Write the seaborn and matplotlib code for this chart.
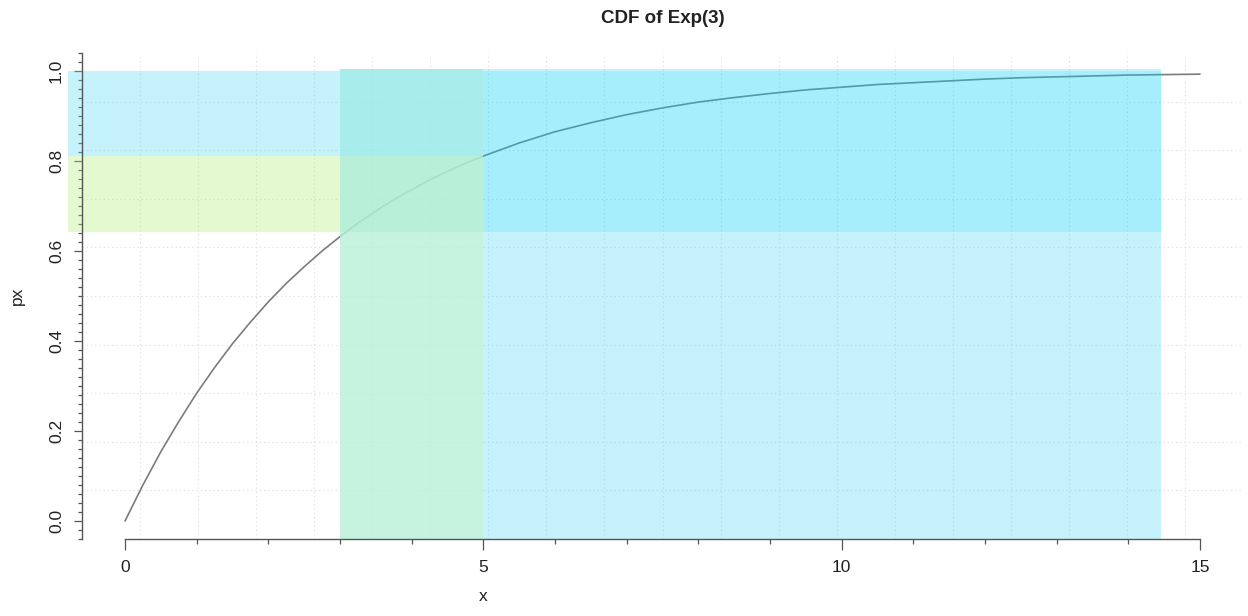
import numpy as np
import pandas as pd
import matplotlib
matplotlib.use("Agg")
import matplotlib.pyplot as plt
import matplotlib.colors as mcolors
from matplotlib.patches import Rectangle
from matplotlib.ticker import FixedLocator
import seaborn as sns

# ---------------- data ----------------
x_vals = [0.0, 0.25, 0.5, 0.75, 1.0, 1.25, 1.5, 1.75, 2.0, 2.25, 2.5, 2.75,
          3.0, 3.25, 3.5, 3.75, 4.0, 4.25, 4.5, 4.75, 5.0, 5.5, 6.0, 6.5,
          7.0, 7.5, 8.0, 8.5, 9.0, 9.5, 10.0, 10.5, 11.0, 11.5, 12.0, 12.5,
          13.0, 13.5, 14.0, 14.5, 15.0]
px_vals = [0.000, 0.080, 0.154, 0.221, 0.284, 0.341, 0.394, 0.442, 0.487, 0.528,
           0.565, 0.600, 0.632, 0.662, 0.689, 0.714, 0.736, 0.758, 0.777, 0.795,
           0.811, 0.840, 0.865, 0.885, 0.903, 0.918, 0.931, 0.941, 0.950, 0.958,
           0.964, 0.970, 0.974, 0.978, 0.982, 0.985, 0.987, 0.989, 0.991, 0.992,
           0.993]

x_lower = 3.0          # left edge of the vertical band
x_upper = 5.0          # right edge of the vertical band
p_lower = 0.643        # lower edge of the horizontal band
p_upper = 0.811        # upper edge of the horizontal band
band_left = -0.8       # shaded areas start left of the y axis
band_right = 14.45     # shaded areas end here
band_top = 1.0
band_top_v = 1.005

x_ticks = [0, 5, 10, 15]
x_tick_labels = ["0", "5", "10", "15"]
y_ticks = [0.0, 0.2, 0.4, 0.6, 0.8, 1.0]
y_tick_labels = ["0.0", "0.2", "0.4", "0.6", "0.8", "1.0"]
title_text = "CDF of Exp(3)"
x_label = "x"
y_label = "px"

# ---------------- style ----------------
sns.set_theme(style="white")
plt.rcParams["font.family"] = ["Liberation Sans", "DejaVu Sans"]

W, H = 1248, 616
fig = plt.figure(figsize=(W / 100, H / 100), dpi=100)
ax = fig.add_axes([82 / W, 1 - 539 / H, (1243 - 82) / W, (539 - 53) / H])
xlim = (-0.6, 15.6)
ylim = (-0.04, 1.04)
ax.set_xlim(*xlim)
ax.set_ylim(*ylim)

# dotted R-style grid (nx=20, ny=10)
grid_kw = dict(color="#e0e0e0", lw=0.8, ls=(0, (1.2, 2.6)), zorder=1)
for gx in np.linspace(xlim[0], xlim[1], 21)[1:-1]:
    ax.axvline(gx, **grid_kw)
for gy in np.linspace(ylim[0], ylim[1], 11)[1:-1]:
    ax.axhline(gy, **grid_kw)

# CDF curve
df = pd.DataFrame({x_label: x_vals, y_label: px_vals})
sns.lineplot(data=df, x=x_label, y=y_label, ax=ax, color="#7c7c7c", lw=1.2,
             zorder=2)


def over_white(target_hex, a):
    t = np.array(mcolors.to_rgb(target_hex))
    base = np.clip(1 - (1 - t) / a, 0, 1)
    return (base[0], base[1], base[2], a)


regions = [
    (band_left, x_lower, p_upper, band_top, "#C6F3FB", 0.35),
    (band_left, x_lower, p_lower, p_upper, "#E5F9D1", 0.35),
    (x_lower, x_upper, p_upper, band_top_v, "#A8EDEB", 0.80),
    (x_lower, x_upper, p_lower, p_upper, "#B8EFD8", 0.88),
    (x_lower, x_upper, ylim[0], p_lower, "#C6F3E0", 0.80),
    (x_upper, band_right, p_lower, band_top, "#A7EEFC", 0.36),
    (x_upper, band_right, band_top, band_top_v, "#C6F3FB", 0.35),
    (x_upper, band_right, ylim[0], p_lower, "#C6F3FB", 0.35),
]
for x0, x1, y0, y1, col, a in regions:
    ax.add_patch(Rectangle((x0, y0), x1 - x0, y1 - y0, facecolor=over_white(col, a),
                           edgecolor="none", lw=0, zorder=2.2, clip_on=False))

# axes: R style
for s in ("top", "right"):
    ax.spines[s].set_visible(False)
for s in ("left", "bottom"):
    ax.spines[s].set_color("#555555")
    ax.spines[s].set_linewidth(1.0)
    ax.spines[s].set_zorder(3)
ax.spines["left"].set_bounds(ylim[0], ylim[1])
ax.spines["bottom"].set_bounds(x_ticks[0], x_ticks[-1])

ax.set_xticks(x_ticks)
ax.set_xticklabels(x_tick_labels)
ax.xaxis.set_minor_locator(FixedLocator(list(range(0, 16))))
ax.set_yticks(y_ticks)
ax.set_yticklabels(y_tick_labels)
ax.yaxis.set_minor_locator(FixedLocator(np.round(np.arange(-0.04, 1.0401, 0.02), 2)))

ax.tick_params(axis="x", which="major", bottom=True, direction="out", length=7.9,
               width=0.9, color="#555555", pad=6.9, labelsize=12.5, labelcolor="#222222")
ax.tick_params(axis="x", which="minor", bottom=True, direction="out", length=3.6,
               width=0.9, color="#555555")
ax.tick_params(axis="y", which="major", left=True, direction="out", length=5.8,
               width=0.9, color="#555555", pad=7.2, labelsize=12.5, labelcolor="#222222")
ax.tick_params(axis="y", which="minor", left=True, direction="out", length=2.9,
               width=0.9, color="#555555")
for lab in ax.get_yticklabels():
    lab.set_rotation(90)
    lab.set_va("center")
    lab.set_ha("right")

ax.set_xlabel(x_label, fontsize=12.5, color="#222222")
ax.set_ylabel(y_label, fontsize=12.5, color="#222222")
ax.xaxis.set_label_coords((483 - 82) / 1161, (539 - 589) / 486)
ax.yaxis.set_label_coords((25 - 82) / 1161, 0.5)

ax.set_title(title_text, fontsize=13.5, fontweight="bold", pad=21.6, color="#222222")

fig.savefig("out.png", dpi=100)
